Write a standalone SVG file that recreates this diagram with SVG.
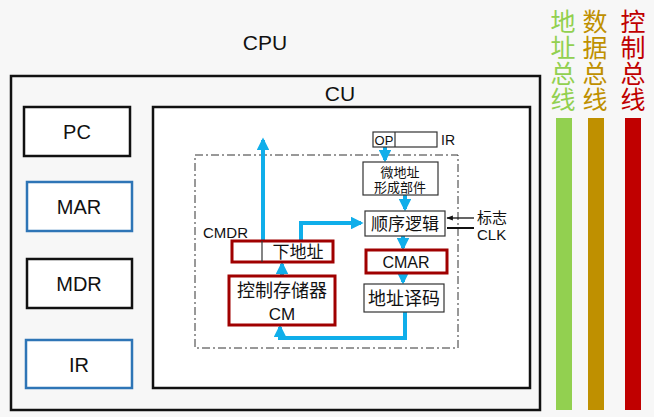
<svg xmlns="http://www.w3.org/2000/svg" width="654" height="417" viewBox="0 0 654 417">
<defs>
<style>
text{font-family:"Liberation Sans","Noto Sans CJK SC",sans-serif;fill:#111}
.reg{fill:#fff;stroke:#111;stroke-width:2.5}
.regb{fill:#fff;stroke:#2E75B6;stroke-width:2.5}
.box{fill:#fff;stroke:#333;stroke-width:1.2}
.red{fill:#fff;stroke:#A00000;stroke-width:3}
.flow{fill:none;stroke:#10AEEA;stroke-width:4}
.thin{fill:none;stroke:#111;stroke-width:1.3}
</style>
<marker id="ah" viewBox="0 0 10 10" refX="8" refY="5" markerWidth="3.2" markerHeight="3.2" orient="auto-start-reverse" markerUnits="strokeWidth">
<path d="M0,0 L10,5 L0,10 z" fill="#10AEEA"/>
</marker>
<marker id="ak" viewBox="0 0 10 10" refX="9" refY="5" markerWidth="5" markerHeight="5" orient="auto">
<path d="M0,1 L10,5 L0,9 z" fill="#111"/>
</marker>
</defs>
<rect width="654" height="417" fill="#f7f7f7"/>
<text x="265" y="50" font-size="21" text-anchor="middle">CPU</text>
<g id="cpu"><rect x="11" y="76" width="529" height="334" fill="none" stroke="#111" stroke-width="2.5"/></g>
<g id="cu"><rect x="153" y="107" width="377" height="281" fill="#fff" stroke="#111" stroke-width="2.5"/>
<text x="340" y="101" font-size="21" text-anchor="middle">CU</text></g>
<g id="pc"><rect class="reg" x="24" y="107" width="106" height="49"/><text x="77" y="139" font-size="20" text-anchor="middle">PC</text></g>
<g id="mar"><rect class="regb" x="27" y="182" width="105" height="49"/><text x="79" y="214" font-size="20" text-anchor="middle">MAR</text></g>
<g id="mdr"><rect class="reg" x="27" y="259" width="105" height="49"/><text x="79" y="291" font-size="20" text-anchor="middle">MDR</text></g>
<g id="ir"><rect class="regb" x="26" y="340" width="106" height="48"/><text x="79" y="372" font-size="20" text-anchor="middle">IR</text></g>
<g id="cm-area"><rect x="195" y="155" width="263" height="193" fill="none" stroke="#333" stroke-width="1" stroke-dasharray="8,3,2,3"/></g>
<g id="connectors">
<line class="flow" x1="263" y1="242" x2="263" y2="140" marker-end="url(#ah)"/>
<line class="flow" x1="385" y1="147" x2="385" y2="160" marker-end="url(#ah)"/>
<line class="flow" x1="405" y1="195" x2="405" y2="209" marker-end="url(#ah)"/>
<polyline class="flow" points="301,242 301,223 361,223" marker-end="url(#ah)"/>
<line class="flow" x1="282" y1="276" x2="282" y2="264" marker-end="url(#ah)"/>
<line class="flow" x1="403" y1="236" x2="403" y2="248" marker-end="url(#ah)"/>
<line class="flow" x1="403" y1="273" x2="403" y2="282" marker-end="url(#ah)"/>
<polyline class="flow" points="405,312 405,338 280,338 280,327" marker-end="url(#ah)"/>
<line class="thin" x1="474" y1="218" x2="447" y2="218" marker-end="url(#ak)"/>
<line x1="474" y1="228" x2="447" y2="228" stroke="#111" stroke-width="2"/>
</g>
<g id="irbox"><rect class="box" x="373" y="132" width="64" height="15"/><line x1="395" y1="132" x2="395" y2="147" stroke="#333" stroke-width="1.2"/>
<text x="384" y="145" font-size="13" text-anchor="middle">OP</text><text x="441" y="145" font-size="14">IR</text></g>
<g id="wdz"><rect class="box" x="363" y="162" width="75" height="33"/>
<text x="400" y="177" font-size="13" text-anchor="middle" fill="#333">微地址</text>
<text x="400" y="192" font-size="13" text-anchor="middle" fill="#333">形成部件</text></g>
<g id="sxlj"><rect class="box" x="365" y="211" width="80" height="25"/>
<text x="405" y="230" font-size="17" text-anchor="middle" fill="#333">顺序逻辑</text></g>
<g id="flag"><text x="477" y="223" font-size="15">标志</text><text x="477" y="240" font-size="15">CLK</text></g>
<g id="cmdr"><rect class="red" x="232" y="241" width="101" height="21"/><line x1="262" y1="241" x2="262" y2="262" stroke="#333" stroke-width="1.2"/>
<text x="298" y="258" font-size="17" text-anchor="middle" fill="#333">下地址</text>
<text x="203" y="238" font-size="15">CMDR</text></g>
<g id="cm"><rect class="red" x="229" y="276" width="106" height="49"/>
<text x="282" y="297" font-size="18" text-anchor="middle">控制存储器</text>
<text x="282" y="320" font-size="17" text-anchor="middle">CM</text></g>
<g id="cmar"><rect class="red" x="366" y="250" width="81" height="23"/>
<text x="406" y="268" font-size="16" text-anchor="middle">CMAR</text></g>
<g id="dzym"><rect class="box" x="364" y="284" width="80" height="28"/>
<text x="404" y="305" font-size="18" text-anchor="middle" fill="#333">地址译码</text></g>
<g id="abus"><g font-size="25" text-anchor="middle"><text x="563" y="31" style="fill:#92D050">地</text><text x="563" y="57" style="fill:#92D050">址</text><text x="563" y="83" style="fill:#92D050">总</text><text x="563" y="109" style="fill:#92D050">线</text></g>
<rect x="556" y="118" width="16" height="292" fill="#92D050"/></g>
<g id="dbus"><g font-size="25" text-anchor="middle"><text x="595" y="31" style="fill:#BF9000">数</text><text x="595" y="57" style="fill:#BF9000">据</text><text x="595" y="83" style="fill:#BF9000">总</text><text x="595" y="109" style="fill:#BF9000">线</text></g>
<rect x="588" y="118" width="16" height="292" fill="#BF9000"/></g>
<g id="cbus"><g font-size="25" text-anchor="middle"><text x="633" y="31" style="fill:#C00000">控</text><text x="633" y="57" style="fill:#C00000">制</text><text x="633" y="83" style="fill:#C00000">总</text><text x="633" y="109" style="fill:#C00000">线</text></g>
<rect x="625" y="118" width="16" height="292" fill="#C00000"/></g>
</svg>
